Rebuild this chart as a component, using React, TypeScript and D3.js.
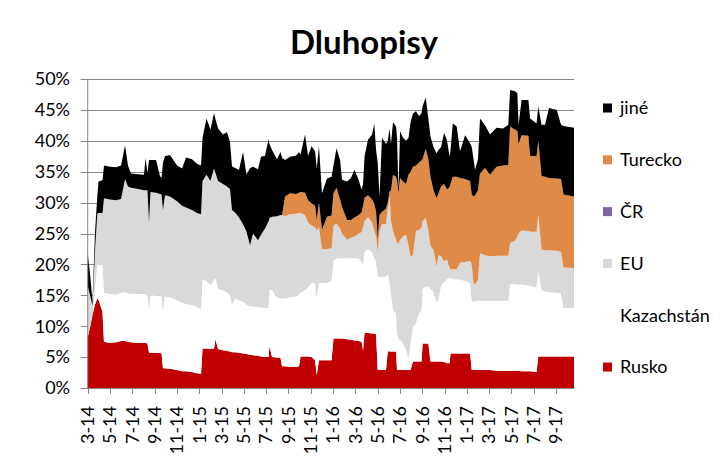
import React from "react";
import * as d3 from "d3";

// x position in months since March 2014
const monthPos = [
  0.00, 0.21, 0.43, 0.65, 0.86, 0.97, 1.33, 1.46, 2.00, 2.54,
  2.99, 3.35, 3.61, 3.88, 4.51, 5.05, 5.18, 5.36, 5.50, 5.63,
  6.13, 6.48, 6.62, 6.75, 6.93, 7.38, 8.01, 8.46, 8.82, 9.35,
  9.80, 10.16, 10.30, 10.65, 11.01, 11.33, 11.46, 11.69, 12.13, 12.49,
  12.76, 12.94, 13.21, 13.57, 13.93, 14.24, 14.56, 14.83, 15.27, 15.54,
  15.90, 16.22, 16.30, 16.53, 16.98, 17.29, 17.43, 17.70, 18.14, 18.68,
  18.95, 19.09, 19.49, 19.76, 20.07, 20.39, 20.54, 20.74, 21.01, 21.46,
  21.87, 22.04, 22.31, 22.63, 22.81, 23.26, 23.61, 23.93, 24.29, 24.56,
  24.69, 24.83, 25.14, 25.50, 25.70, 25.86, 26.01, 26.17, 26.39, 26.75,
  26.91, 27.07, 27.20, 27.38, 27.65, 27.74, 27.87, 28.01, 28.28, 28.55,
  28.77, 28.95, 29.17, 29.44, 29.71, 29.94, 30.03, 30.31, 30.55, 30.74,
  31.01, 31.28, 31.46, 31.69, 31.96, 32.22, 32.45, 32.54, 32.74, 33.09,
  33.39, 33.84, 34.29, 34.44, 34.60, 34.74, 35.00, 35.18, 35.63, 36.08,
  36.66, 37.25, 37.72, 37.88, 38.32, 38.53, 38.64, 38.91, 39.52, 39.67,
  40.25, 40.41, 40.70, 41.01, 41.37, 42.06, 42.45, 42.67, 43.61,
];

const rusko = [
  8.2, 9.8, 11.8, 13.5, 14.5, 14.3, 12.3, 7.5, 7.3, 7.4,
  7.6, 7.6, 7.5, 7.4, 7.3, 7.3, 7.3, 7.2, 5.7, 5.7,
  5.7, 5.7, 5.6, 3.2, 3.2, 3.1, 2.9, 2.7, 2.7, 2.6,
  2.4, 2.3, 6.4, 6.4, 6.3, 6.4, 7.9, 6.3, 6.1, 6.0,
  5.9, 5.8, 5.8, 5.7, 5.6, 5.5, 5.4, 5.3, 5.2, 5.1,
  5.0, 5.0, 6.8, 5.0, 4.9, 4.9, 3.5, 3.5, 3.4, 3.4,
  3.5, 5.1, 5.1, 5.1, 5.0, 4.5, 2.1, 4.5, 4.5, 4.5,
  4.5, 8.0, 8.0, 8.0, 8.0, 7.9, 7.8, 7.7, 7.6, 7.5,
  6.1, 9.0, 8.9, 8.8, 8.8, 8.7, 2.9, 2.9, 2.9, 2.9,
  6.0, 5.9, 5.9, 5.9, 5.9, 2.9, 2.9, 2.9, 2.9, 2.9,
  2.9, 2.9, 4.3, 4.3, 4.3, 4.3, 7.2, 7.2, 7.2, 4.3,
  4.3, 4.3, 4.3, 4.3, 4.2, 4.0, 4.0, 5.6, 5.6, 5.6,
  5.6, 5.6, 5.6, 2.9, 2.9, 2.9, 2.9, 2.9, 2.9, 2.9,
  2.8, 2.8, 2.8, 2.8, 2.8, 2.8, 2.8, 2.7, 2.7, 2.7,
  2.6, 5.1, 5.1, 5.1, 5.1, 5.1, 5.1, 5.1, 5.1,
];

const kazachstan = [
  0, 0, 0, 2.5, 5.4, 5.6, 7.6, 7.9, 7.9, 7.7,
  7.8, 7.9, 7.8, 7.8, 7.9, 7.9, 7.8, 7.8, 7.0, 9.3,
  9.3, 9.2, 9.2, 9.3, 11.6, 11.6, 11.3, 11.1, 10.9, 10.8,
  10.7, 10.5, 11.1, 10.9, 10.3, 11.1, 9.9, 9.7, 9.7, 9.5,
  9.1, 7.7, 8.7, 8.5, 8.3, 8.0, 7.8, 7.9, 7.9, 7.9,
  8.0, 8.0, 9.1, 10.8, 9.7, 9.6, 11.0, 11.0, 11.3, 11.4,
  11.7, 10.3, 10.7, 11.2, 12.0, 12.5, 12.5, 12.5, 12.5, 12.5,
  12.9, 12.6, 13.0, 13.0, 13.0, 13.1, 13.2, 13.3, 13.4, 12.9,
  13.9, 13.0, 13.6, 13.2, 12.2, 11.8, 15.1, 15.1, 15.1, 15.1,
  12.5, 11.1, 9.4, 6.7, 6.2, 6.1, 4.9, 4.9, 4.3, 3.2,
  1.9, 4.1, 5.7, 6.2, 7.7, 8.3, 8.8, 9.2, 9.2, 11.7,
  11.2, 9.4, 10.2, 12.2, 13.0, 13.6, 13.8, 12.2, 12.0, 12.0,
  11.9, 11.7, 11.4, 11.2, 11.1, 11.1, 11.2, 11.2, 11.2, 11.2,
  11.3, 11.3, 11.3, 14.1, 14.0, 14.0, 13.9, 14.0, 13.9, 13.8,
  13.7, 13.8, 10.7, 10.5, 10.4, 10.3, 10.2, 7.9, 7.8,
];

const eu = [
  8.3, 5.2, 1.5, 6.0, 8.3, 8.4, 8.4, 15.3, 15.3, 15.3,
  15.2, 18.3, 17.3, 17.2, 17.0, 16.8, 16.9, 17.0, 14.1, 16.7,
  16.6, 16.5, 16.5, 16.3, 16.4, 16.3, 16.0, 15.7, 15.6, 15.4,
  15.2, 15.3, 16.0, 17.2, 16.9, 18.0, 17.0, 17.5, 17.2, 17.1,
  17.2, 15.3, 13.9, 13.4, 12.6, 11.8, 9.9, 11.8, 10.8, 11.8,
  12.8, 14.0, 11.6, 11.9, 13.2, 13.5, 13.5, 13.3, 13.4, 13.4,
  13.1, 12.9, 12.2, 10.5, 9.3, 9.0, 10.9, 9.0, 5.5, 5.5,
  5.2, 5.6, 5.6, 4.8, 4.0, 3.0, 3.3, 3.5, 4.0, 4.8,
  6.0, 5.0, 5.2, 4.8, 4.5, 4.0, 4.0, 7.5, 8.5, 8.5,
  10.5, 14.0, 11.7, 12.9, 11.9, 14.5, 15.6, 16.2, 17.3, 18.7,
  18.2, 14.3, 11.5, 15.0, 13.5, 13.4, 11.0, 11.1, 9.1, 7.0,
  6.8, 6.1, 7.0, 4.8, 3.3, 3.2, 1.7, 1.4, 1.6, 1.6,
  2.8, 3.1, 3.6, 5.9, 2.9, 2.8, 3.4, 7.7, 7.4, 7.2,
  7.3, 7.3, 7.3, 6.6, 7.0, 7.7, 8.3, 8.8, 8.8, 8.8,
  9.0, 9.2, 6.6, 6.7, 6.8, 6.8, 6.7, 6.5, 6.5,
];

const cr = [
  0, 0, 0, 0, 0, 0, 0, 0, 0, 0,
  0, 0, 0, 0, 0, 0, 0, 0, 0, 0,
  0, 0, 0, 0, 0, 0, 0, 0, 0, 0,
  0, 0, 0, 0, 0, 0, 0, 0, 0, 0,
  0, 0, 0, 0, 0, 0, 0, 0, 0, 0,
  0, 0, 0, 0, 0, 0, 0, 0, 0, 0,
  0, 0, 0, 0, 0, 0, 0, 0, 0, 0,
  0, 0, 0, 0, 0, 0, 0, 0, 0, 0,
  0, 0, 0, 0, 0, 0, 0, 0, 0, 0,
  0, 0, 0, 0, 0, 0, 0, 0, 0, 0,
  0, 0, 0, 0, 0, 0, 0, 0, 0, 0,
  0, 0, 0, 0, 0, 0, 0, 0, 0, 0,
  0, 0, 0, 0, 0, 0, 0, 0, 0, 0,
  0, 0, 0, 0, 0, 0, 0, 0, 0, 0,
  0, 0, 0, 0, 0, 0, 0, 0, 0,
];

const turecko = [
  0, 0, 0, 0, 0, 0, 0, 0, 0, 0,
  0, 0, 0, 0, 0, 0, 0, 0, 0, 0,
  0, 0, 0, 0, 0, 0, 0, 0, 0, 0,
  0, 0, 0, 0, 0, 0, 0, 0, 0, 0,
  0, 0, 0, 0, 0, 0, 0, 0, 0, 0,
  0, 0, 0, 0, 0, 0, 0, 3.2, 3.4, 3.2,
  3.3, 3.4, 3.6, 3.6, 3.6, 3.5, 1.7, 4.0, 3.1, 5.2,
  5.3, 5.3, 5.8, 4.7, 4.3, 3.2, 2.9, 3.1, 3.0, 3.2,
  3.5, 3.8, 3.5, 3.7, 4.3, 4.0, 2.2, 2.5, 2.0, 2.5,
  1.0, 0.8, 5.0, 9.0, 10.2, 10.0, 8.1, 10.0, 8.9, 8.2,
  11.5, 13.7, 14.3, 10.5, 11.0, 10.8, 10.0, 11.2, 11.5, 11.2,
  9.7, 10.9, 10.0, 11.3, 12.5, 11.3, 13.0, 13.8, 15.0, 15.0,
  13.7, 13.4, 12.9, 11.3, 14.1, 14.4, 14.5, 12.9, 14.1, 13.2,
  14.4, 14.6, 14.7, 18.8, 18.0, 17.1, 14.5, 15.4, 15.4, 12.3,
  12.2, 11.9, 11.9, 11.9, 11.7, 11.7, 11.8, 11.8, 11.6,
];

const jine = [
  5.3, 3.5, 0.7, 3.0, 2.8, 5.1, 5.3, 5.3, 5.3, 5.3,
  5.4, 5.5, 3.4, 2.3, 2.4, 2.5, 5.2, 2.8, 10.1, 5.2,
  5.3, 2.9, 2.7, 7.7, 6.3, 6.7, 5.8, 6.0, 8.1, 8.2,
  8.0, 7.9, 7.0, 9.1, 8.3, 9.0, 8.7, 8.5, 8.0, 8.8,
  7.6, 7.1, 7.2, 7.7, 11.7, 9.2, 12.5, 10.8, 11.5, 12.6,
  11.8, 13.3, 12.0, 10.8, 9.2, 10.2, 9.2, 5.9, 5.9, 6.2,
  6.6, 6.1, 9.4, 7.2, 9.2, 8.8, 8.3, 9.1, 5.9, 6.2,
  6.3, 4.5, 6.4, 6.4, 4.4, 6.2, 6.8, 7.7, 5.7, 3.7,
  3.5, 6.7, 9.0, 10.5, 13.0, 10.0, 12.2, 3.0, 12.0, 10.5,
  10.0, 10.2, 7.5, 8.5, 8.1, 7.0, 0.5, 7.5, 7.1, 7.0,
  6.0, 8.0, 8.6, 8.8, 7.5, 7.7, 8.6, 8.3, 6.6, 6.5,
  7.0, 7.3, 7.0, 6.4, 8.3, 8.0, 4.9, 5.5, 8.6, 8.1,
  4.3, 7.1, 6.1, 7.7, 6.0, 4.1, 5.0, 8.9, 6.9, 6.5,
  6.3, 6.0, 6.5, 5.9, 6.2, 6.1, 3.1, 5.7, 5.8, 6.0,
  5.3, 5.6, 8.3, 8.4, 11.3, 11.1, 8.8, 11.1, 11.1,
];

const tickLabels = [
  "3-14", "5-14", "7-14", "9-14", "11-14", "1-15", "3-15", "5-15", "7-15", "9-15", "11-15",
  "1-16", "3-16", "5-16", "7-16", "9-16", "11-16", "1-17", "3-17", "5-17", "7-17", "9-17",
];
const yTicks = [0, 5, 10, 15, 20, 25, 30, 35, 40, 45, 50];

const seriesNames = ["Rusko", "Kazachstán", "EU", "ČR", "Turecko", "jiné"];
const seriesValues = [rusko, kazachstan, eu, cr, turecko, jine];
const seriesColors = ["#C00000", "#FFFFFF", "#D9D9D9", "#8064A2", "#E08A48", "#000000"];
const legendOrder = ["jiné", "Turecko", "ČR", "EU", "Kazachstán", "Rusko"];

const FONT = "Lato, 'Open Sans', sans-serif";

export default function App() {
  const W = 728;
  const H = 458;
  const left = 87.7;
  const right = 574;
  const top = 79;
  const bottom = 388;

  const x = d3.scaleLinear().domain([0, 43.61]).range([left, right]);
  const y = d3.scaleLinear().domain([0, 50]).range([bottom, top]);

  const rows = monthPos.map((m, i) => {
    const r: any = { m };
    seriesNames.forEach((n, k) => (r[n] = seriesValues[k][i]));
    return r;
  });
  const stacked = d3.stack<any>().keys(seriesNames).order(d3.stackOrderNone).offset(d3.stackOffsetNone)(rows);
  const area = d3
    .area<any>()
    .x((d) => x(d.data.m))
    .y0((d) => y(d[0]))
    .y1((d) => y(d[1]))
    .curve(d3.curveLinear);

  const tickVals = tickLabels.map((_, i) => i * 2);
  const gridColor = "#868686";

  return (
    <div style={{ position: "absolute", left: 0, top: 0, width: W, height: H, background: "#fff" }}>
      <svg width={W} height={H} style={{ display: "block" }} fontFamily={FONT}>
        <rect x={0} y={0} width={W} height={H} fill="#fff" />
        <text x={364} y={54} textAnchor="middle" fontSize={33} fontWeight="bold" fill="#000">
          Dluhopisy
        </text>
        {/* gridlines */}
        {yTicks.filter((v) => v > 0).map((v) => (
          <line key={"g" + v} x1={left - 7} x2={right} y1={Math.round(y(v)) + 0.5} y2={Math.round(y(v)) + 0.5} stroke={gridColor} strokeWidth={1} />
        ))}
        {/* areas */}
        {stacked.map((s, i) => (
          <path key={s.key} d={area(s) || ""} fill={seriesColors[i]} stroke="none" />
        ))}
        {/* axes */}
        <line x1={left} x2={left} y1={top} y2={bottom} stroke={gridColor} strokeWidth={1} />
        <line x1={left - 7} x2={right} y1={Math.round(bottom) + 0.5} y2={Math.round(bottom) + 0.5} stroke={gridColor} strokeWidth={1} />
        {yTicks.map((v) => (
          <text key={"yl" + v} x={70} y={y(v)} dy="0.35em" textAnchor="end" fontSize={18} fill="#000">
            {v + "%"}
          </text>
        ))}
        {tickVals.map((t, i) => (
          <g key={"xt" + i}>
            <line x1={Math.round(x(t)) + 0.5} x2={Math.round(x(t)) + 0.5} y1={bottom} y2={bottom + 6} stroke={gridColor} strokeWidth={1} />
            <text
              transform={`translate(${x(t)},${bottom + 18}) rotate(-90)`}
              dy="0.35em"
              textAnchor="end"
              fontSize={18}
              fill="#000"
            >
              {tickLabels[i]}
            </text>
          </g>
        ))}
        {/* legend */}
        {legendOrder.map((name, i) => {
          const k = seriesNames.indexOf(name);
          const cy = 108 + i * 51.8;
          return (
            <g key={"lg" + name}>
              <rect x={603} y={cy - 4.5} width={9} height={9} fill={seriesColors[k]} />
              <text x={620} y={cy} dy="0.35em" fontSize={18} fill="#000">
                {name}
              </text>
            </g>
          );
        })}
      </svg>
    </div>
  );
}
